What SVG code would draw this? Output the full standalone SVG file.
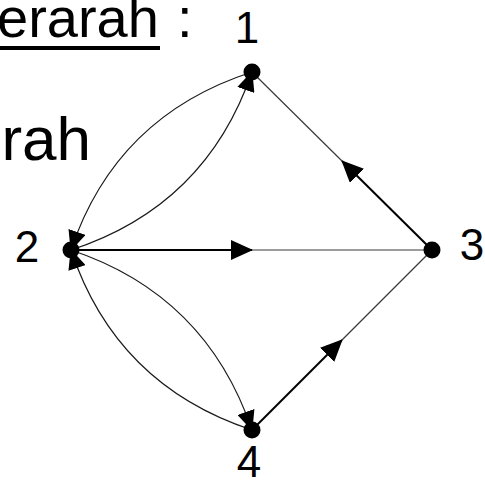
<svg xmlns="http://www.w3.org/2000/svg" width="485" height="480" viewBox="0 0 485 480">
  <style>
    .title { font-family: "Liberation Sans", Arial, sans-serif; fill: #000; }
    .label { font-family: "Liberation Sans", Arial, sans-serif; font-size: 44px; fill: #000; text-anchor: middle; }
    .dot { fill: #000; }
    .thick { fill: none; stroke: #000; stroke-width: 2; }
    .thin { fill: none; stroke: #3a3a3a; stroke-width: 1.2; }
    .arc { fill: none; stroke: #1a1a1a; stroke-width: 1.2; }
  </style>
  <defs>
    <marker id="mid" markerUnits="userSpaceOnUse" markerWidth="22" markerHeight="20" refX="21" refY="10" orient="auto">
      <path d="M0,0 L22,10 L0,20 Z" fill="#000"/>
    </marker>
    <marker id="end" markerUnits="userSpaceOnUse" markerWidth="20" markerHeight="18" refX="19" refY="9" orient="auto">
      <path d="M0,0 L20,9 L0,18 Z" fill="#000"/>
    </marker>
  </defs>

  <rect width="485" height="480" fill="#fff"/>

  <!-- heading fragments -->
  <g id="heading">
    <text class="title" x="-3" y="37" font-size="56">erarah</text>
    <line x1="0" y1="48" x2="160" y2="48" stroke="#000" stroke-width="4"/>
    <text class="title" x="177" y="37" font-size="56">:</text>
    <text class="title" x="91" y="160" font-size="62" text-anchor="end">rah</text>
  </g>

  <!-- connectors -->
  <g id="edges">
    <!-- 2 -> 3 -->
    <line class="thick" x1="71" y1="250" x2="252" y2="250" marker-end="url(#mid)"/>
    <line class="thin" x1="252" y1="250" x2="432" y2="250"/>
    <!-- 3 -> 1 -->
    <line class="thick" x1="432" y1="250" x2="342" y2="161" marker-end="url(#mid)"/>
    <line class="thin" x1="342" y1="161" x2="252" y2="72"/>
    <!-- 4 -> 3 -->
    <line class="thick" x1="252" y1="430" x2="342" y2="340" marker-end="url(#mid)"/>
    <line class="thin" x1="342" y1="340" x2="432" y2="250"/>
    <!-- 1 -> 2 (outer arc) -->
    <path class="arc" d="M252,72 Q116,116 71,250" marker-end="url(#end)"/>
    <!-- 2 -> 1 (inner arc) -->
    <path class="arc" d="M71,250 Q206,206 252,72" marker-end="url(#end)"/>
    <!-- 4 -> 2 (outer arc) -->
    <path class="arc" d="M252,430 Q116,385 71,250" marker-end="url(#end)"/>
    <!-- 2 -> 4 (inner arc) -->
    <path class="arc" d="M71,250 Q206,295 252,430" marker-end="url(#end)"/>
  </g>

  <!-- vertices -->
  <g id="node-1">
    <circle class="dot" cx="252" cy="72" r="8.5"/>
    <text class="label" x="247" y="43">1</text>
  </g>
  <g id="node-2">
    <circle class="dot" cx="71" cy="250" r="8.5"/>
    <text class="label" x="27" y="262">2</text>
  </g>
  <g id="node-3">
    <circle class="dot" cx="432" cy="250" r="8.5"/>
    <text class="label" x="472" y="260">3</text>
  </g>
  <g id="node-4">
    <circle class="dot" cx="252" cy="430" r="8.5"/>
    <text class="label" x="249" y="477">4</text>
  </g>
</svg>
